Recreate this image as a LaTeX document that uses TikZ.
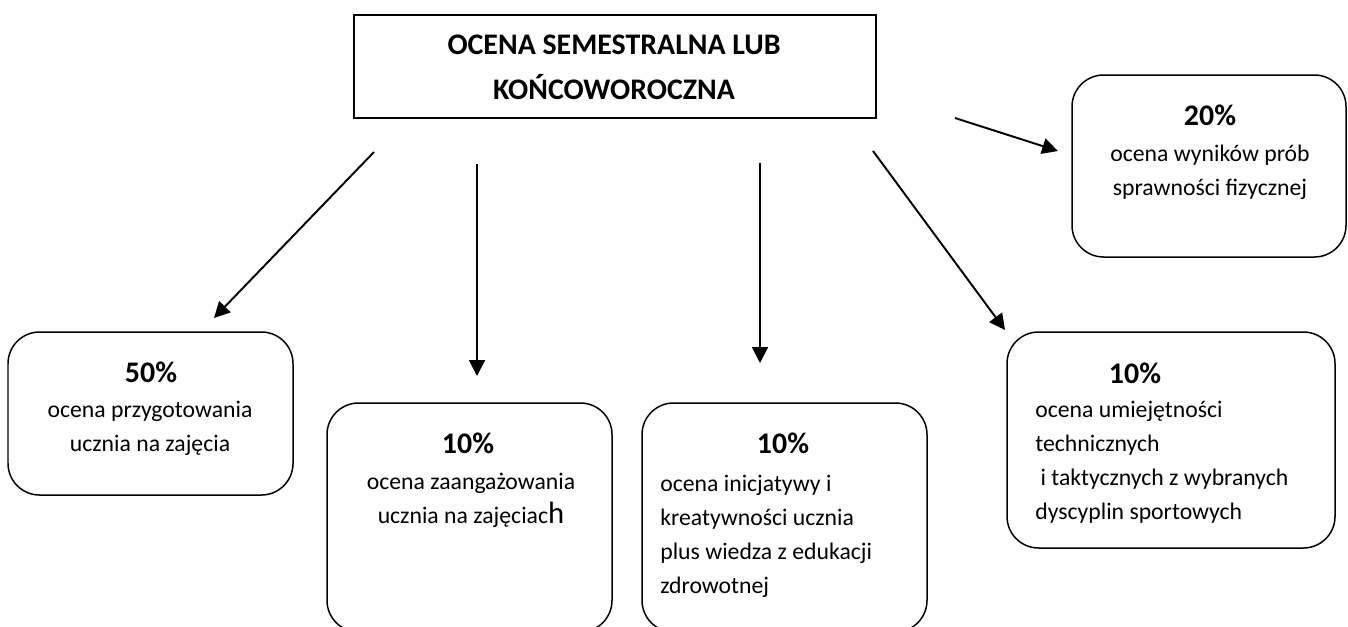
\documentclass[tikz,border=0pt]{standalone}
\usepackage{fontspec}
\setmainfont{Carlito}
\usetikzlibrary{arrows.meta,fit}

\tikzset{
  box/.style={draw, line width=0.85pt, rounded corners=18pt, inner sep=0pt},
  topbox/.style={draw, line width=1.1pt, inner sep=0pt},
  pct/.style={inner sep=0pt, font=\fontsize{17}{20}\selectfont\bfseries},
  txt/.style={inner sep=0pt, font=\fontsize{13.5}{19.3}\selectfont},
  arr/.style={line width=1.1pt, -{Triangle[length=9pt,width=9pt]}}
}

\begin{document}
\begin{tikzpicture}[x=0.02cm,y=-0.02cm]
\clip (0,0) rectangle (1348,626);

% boxes
\node[topbox, fit={(354,15) (876,118)}] (ocena) {};
\node[box, fit={(8,332) (293,495)}] (przyg) {};
\node[box, fit={(327,403) (612,632)}] (zaang) {};
\node[box, fit={(642,403) (927,632)}] (inicj) {};
\node[box, fit={(1007,332) (1335,548)}] (umiej) {};
\node[box, fit={(1072,75) (1346,257)}] (wynik) {};

% texts
\path
  (614,67) node[inner sep=0pt, align=center, font=\fontsize{17}{25.6}\selectfont\bfseries] (ocena-t)
     {OCENA SEMESTRALNA LUB\\KOŃCOWOROCZNA}
  (151,372) node[pct] (przyg-p) {50\%}
  (150,428) node[txt, align=center] (przyg-t) {ocena przygotowania\\ucznia na zajęcia}
  (468,443) node[pct] (zaang-p) {10\%}
  (471,500) node[txt, align=center] (zaang-t)
     {ocena zaangażowania\\ucznia na zajęciac{\fontsize{17.5}{19.3}\selectfont h}}
  (783,443) node[pct] (inicj-p) {10\%}
  (660,536) node[txt, align=left, anchor=west] (inicj-t)
     {ocena inicjatywy i\\kreatywności ucznia\\plus wiedza z edukacji\\zdrowotnej}
  (1135,373) node[pct] (umiej-p) {10\%}
  (1035,462) node[txt, align=left, anchor=west] (umiej-t)
     {ocena umiejętności\\technicznych\\\hspace*{3pt}i taktycznych z wybranych\\dyscyplin sportowych}
  (1210,115) node[pct] (wynik-p) {20\%}
  (1210,172) node[txt, align=center] (wynik-t) {ocena wyników prób\\sprawności fizycznej};

% arrow ends
\coordinate (a1) at (374,152);
\coordinate (b1) at (214,318);
\coordinate (a2) at (477,164);
\coordinate (b2) at (477,376);
\coordinate (a3) at (760,163);
\coordinate (b3) at (760,363);
\coordinate (a4) at (873,151);
\coordinate (b4) at (1005,330);
\coordinate (a5) at (955,118);
\coordinate (b5) at (1058,151);
\draw[arr] (a1) -- (b1);
\draw[arr] (a2) -- (b2);
\draw[arr] (a3) -- (b3);
\draw[arr] (a4) -- (b4);
\draw[arr] (a5) -- (b5);
\end{tikzpicture}
\end{document}
